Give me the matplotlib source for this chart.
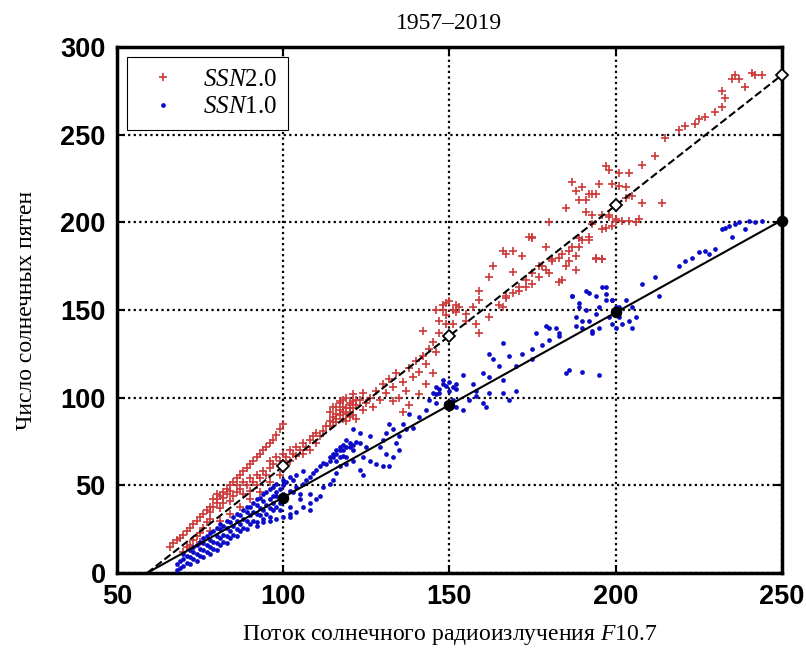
import numpy as np
import matplotlib
matplotlib.use("Agg")
import matplotlib.pyplot as plt

plt.rcParams['mathtext.fontset'] = 'custom'
plt.rcParams['mathtext.rm'] = 'Liberation Serif'
plt.rcParams['mathtext.it'] = 'Liberation Serif:italic'

# SSN 2.0 (red crosses): F10.7, sunspot number
ssn2_x = [66, 67, 68, 69, 70, 71, 72, 73, 74, 75, 76, 77, 78, 80, 81, 82, 83, 84, 85, 86, 87, 88, 89, 90, 91, 92, 93, 94, 95, 96, 97, 98, 99, 100,
          70, 71, 72, 73, 74, 75, 76, 77, 78, 78, 79, 79, 80, 80, 81, 82, 82, 83, 84, 84, 85, 86, 86, 87, 88, 88, 89, 90, 90, 91, 92, 92, 93, 94,
          95, 96, 96, 97, 98, 99, 100, 100, 101, 102, 103, 104, 105, 106, 107, 108, 109, 110,
          72, 75, 78, 81, 84, 87, 90, 93, 96, 99,
          102, 104, 106, 108, 110, 111, 112, 113, 114, 114, 115, 115, 116, 116, 117, 117, 118, 118, 119, 119, 120, 120, 121, 121, 122, 122,
          123, 124, 124, 125, 126, 127, 128, 129, 130, 131, 132, 133, 133, 134, 135, 136, 137, 138, 139, 140, 141, 142, 143, 144, 145, 146,
          136, 138, 141, 143, 145,
          114, 115, 116, 117, 118, 119, 120, 121, 116, 117, 118, 120, 121, 122, 119, 120,
          142, 147, 146, 148, 149, 147, 149, 152, 153, 155, 151, 155, 158, 159, 162, 165, 167, 169, 157, 159, 159,
          148, 150, 151, 149, 152,
          171, 173, 175, 173, 175, 178, 181, 163, 162, 166, 169, 172, 174, 179, 177, 179, 183, 184, 187, 189, 194, 186, 185,
          191, 189, 191, 193, 198, 200, 199, 193, 196, 190, 192, 187, 190, 194, 199, 201, 203, 205, 207, 198, 196, 188, 192, 193, 195,
          197, 198, 201, 203, 204, 208, 212, 214, 208, 197, 186, 188, 192, 196, 200, 202, 204, 206, 180, 181, 175, 169, 167, 177, 183,
          185, 188, 184, 180, 175, 171, 167, 166, 194, 196, 189,
          215, 219, 221, 224, 225, 227, 230, 232, 232, 233, 235, 236, 237, 239, 241, 242, 244]
ssn2_y = [15, 17, 19, 20, 22, 24, 26, 28, 30, 32, 34, 36, 38, 42, 44, 46, 48, 50, 52, 54, 56, 58, 60, 62, 64, 66, 68, 70, 72, 74, 76, 79, 82, 85,
          12, 15, 16, 19, 21, 23, 26, 29, 31, 35, 38, 42, 45, 40, 37, 40, 43, 45, 41, 47, 44, 46, 50, 48, 45, 52, 50, 47, 54, 52, 56, 50, 54, 58,
          56, 60, 64, 62, 66, 64, 62, 68, 66, 70, 68, 72, 70, 74, 72, 76, 78, 80,
          14, 18, 24, 30, 34, 38, 42, 46, 52, 56,
          64, 67, 68, 70, 74, 78, 81, 84, 87, 92, 89, 95, 86, 91, 93, 98, 88, 95, 91, 100, 94, 97, 90, 102, 96, 88,
          99, 93, 103, 97, 100, 95, 104, 99, 108, 103, 111, 106, 98, 114, 100, 109, 104, 117, 112, 121, 115, 124, 119, 128, 132, 126,
          92, 96, 102, 108, 114,
          84, 86, 88, 90, 92, 94, 96, 98, 95, 97, 99, 92, 94, 99, 87, 89,
          138, 137, 150, 150, 154, 144, 142, 149, 152, 148, 142, 144, 142, 137, 146, 153, 158, 160, 152, 156, 161,
          153, 155, 150, 147, 153,
          161, 163, 165, 167, 171, 175, 179, 175, 169, 184, 172, 181, 192, 186, 169, 173, 166, 182, 186, 186, 180, 184, 208,
          206, 213, 213, 204, 204, 201, 198, 199, 196, 190, 192, 223, 220, 216, 222, 221, 220, 215, 202, 203, 204, 218, 216, 216, 222,
          232, 230, 228, 214, 228, 233, 238, 211, 211, 197, 178, 181, 190, 179, 202, 201, 201, 200, 171, 178, 191, 184, 182, 175, 180,
          175, 173, 167, 200, 192, 163, 157, 152, 179, 179, 191,
          248, 253, 255, 256, 259, 260, 263, 266, 275, 271, 282, 284, 282, 277, 285, 284, 284]

# SSN 1.0 (blue dots): F10.7, sunspot number
ssn1_x = [68, 68, 69, 69, 70, 70, 70, 71, 71, 72, 72, 72, 73, 73, 73, 74, 74, 74, 75, 75, 75, 76, 76, 76, 76, 77, 77, 77, 78, 78, 78, 78,
          79, 79, 79, 80, 80, 80, 80, 81, 81, 81, 81, 82, 82, 82, 83, 83, 83, 83, 84, 84, 84, 85, 85, 85, 86, 86, 86, 86, 87, 87, 87,
          88, 88, 88, 89, 89, 89, 89, 90, 90, 90, 91, 91, 91, 92, 92, 92, 92, 93, 93, 93, 94, 94, 94, 94, 95, 95, 95, 96, 96, 96, 96,
          97, 97, 97, 98, 98, 98, 99, 99, 100, 100, 100, 101, 101, 102, 103, 103, 104, 105, 106,
          92, 94, 96, 98, 100, 102, 104, 106, 108, 110,
          97, 99, 102, 105, 108, 111, 102, 108, 98, 100, 102, 104, 106, 107, 108, 109, 110, 111, 112, 112, 113, 114, 114, 115, 115, 116,
          116, 117, 117, 118, 119, 119, 119, 120, 121, 121, 121, 123, 123, 123, 124, 124, 125, 126, 126, 128, 129, 130, 130, 131, 131,
          114, 115, 116, 117, 118, 119, 120, 121, 122, 118, 116, 117,
          132, 132, 133, 133, 134, 135, 135, 136, 137, 138, 139, 141, 143, 144, 145, 146, 146, 147, 148, 149, 150, 151, 152, 152, 154,
          147, 148, 149, 150, 151, 152, 146,
          154, 156, 157, 158, 158, 160, 160, 161, 162, 162, 162, 163, 165, 166, 166, 166, 168, 168, 170,
          170, 172, 175, 176, 178, 180, 183, 185, 186, 190, 195, 175, 179, 182, 183, 180,
          187, 189, 191, 188, 192, 195, 197, 196, 197, 200, 201, 203, 205, 206, 205, 200, 195, 193, 190, 191, 194, 199, 208, 212, 213,
          198, 199, 202, 204, 187, 189, 190, 192, 194, 197, 199, 201, 188, 193,
          219, 221, 223, 225, 227, 228, 230, 232, 233, 234, 235, 236, 237, 239, 240, 242, 244]
ssn1_y = [2, 5, 3, 7, 4, 8, 11, 6, 10, 5, 9, 13, 8, 12, 15, 7, 11, 16, 10, 14, 18, 9, 13, 17, 20, 12, 16, 21, 11, 15, 19, 23,
          14, 18, 24, 13, 17, 21, 26, 16, 20, 25, 28, 18, 22, 27, 17, 21, 26, 30, 20, 24, 29, 22, 27, 32, 21, 25, 30, 34, 24, 28, 33,
          26, 31, 36, 25, 30, 35, 38, 28, 33, 38, 30, 35, 40, 29, 34, 39, 42, 33, 37, 43, 31, 36, 41, 45, 34, 39, 46, 32, 37, 42, 48,
          36, 44, 49, 38, 46, 51, 40, 48, 42, 50, 53, 44, 52, 55, 46, 53, 56, 45, 58,
          27, 29, 30, 31, 32, 34, 35, 38, 40, 42,
          40, 36, 38, 42, 45, 44, 32, 36, 44, 45, 47, 49, 51, 53, 55, 57, 59, 61, 63, 49, 62, 64, 51, 66, 53, 68,
          57, 70, 61, 73, 76, 62, 66, 72, 70, 64, 82, 74, 80, 59, 66, 56, 72, 64, 78, 62, 72, 76, 61, 80, 68,
          66, 68, 70, 72, 70, 72, 74, 73, 75, 67, 64, 66,
          85, 61, 82, 66, 74, 78, 70, 85, 82, 91, 83, 89, 93, 99, 103, 106, 97, 103, 108, 97, 104, 99, 105, 95, 93,
          105, 110, 107, 109, 106, 108, 102,
          113, 99, 108, 104, 101, 114, 97, 95, 112, 103, 125, 122, 118, 131, 110, 103, 124, 99, 104,
          118, 125, 128, 137, 130, 133, 135, 114, 116, 115, 113, 122, 141, 140, 137, 140,
          158, 154, 150, 146, 144, 152, 156, 163, 159, 152, 146, 156, 152, 146, 140, 140, 140, 138, 140, 161, 158, 156, 165, 169, 158,
          146, 142, 142, 144, 158, 152, 144, 160, 148, 163, 156, 152, 141, 137,
          175, 178, 180, 183, 184, 182, 185, 196, 197, 198, 192, 199, 200, 196, 201, 200, 201]

# linear fits, evaluated at the marked F10.7 values
fit_x = [100, 150, 200, 250]
fit2_y = [61, 135, 210, 284]
fit1_y = [43, 96, 149, 201]

xticks = [50, 100, 150, 200, 250]
yticks = [0, 50, 100, 150, 200, 250, 300]

fig = plt.figure(figsize=(8.06, 6.55), dpi=100)
ax = fig.add_axes([0.145, 0.125, 0.825, 0.803])

ax.plot(ssn2_x, ssn2_y, linestyle='none', marker='+', markersize=5.5, markeredgewidth=1.2,
        color='#cc3a3a', label=r'$\mathit{SSN}$2.0', zorder=3)
ax.plot(ssn1_x, ssn1_y, linestyle='none', marker='o', markersize=3.4, markeredgewidth=0,
        color='#0a0ac8', label=r'$\mathit{SSN}$1.0', zorder=3)

# regression lines from zero crossing to the last point
for ys, ls, mfc in [(fit2_y, '--', 'white'), (fit1_y, '-', 'black')]:
    k, b = np.polyfit(fit_x, ys, 1)
    x0 = -b / k
    ax.plot([x0, fit_x[-1]], [0, k * fit_x[-1] + b], ls, color='black', lw=1.5, zorder=4)
    ax.plot(fit_x, ys, linestyle='none', marker='D' if mfc == 'white' else 'o',
            markersize=6 if mfc == 'white' else 7, markerfacecolor=mfc,
            markeredgecolor='black', markeredgewidth=1.3, zorder=5, clip_on=False)

ax.set_xlim(50, 250)
ax.set_ylim(0, 300)
ax.set_xticks(xticks)
ax.set_yticks(yticks)
ax.grid(True, color='black', linestyle=(0, (1, 1.5)), linewidth=1.6)
ax.set_axisbelow(True)
ax.tick_params(direction='in', length=6, width=1.5, top=True, right=True, labelsize=19.5, pad=8)
for lab in ax.get_xticklabels() + ax.get_yticklabels():
    lab.set_fontfamily('Liberation Sans')
    lab.set_fontweight('bold')
for sp in ax.spines.values():
    sp.set_linewidth(2.5)

ax.set_title('1957–2019', fontfamily='Liberation Serif', fontsize=17, pad=13)
ax.set_xlabel(r'Поток солнечного радиоизлучения $\mathit{F}$10.7', fontfamily='Liberation Serif',
              fontsize=17, labelpad=9)
ax.set_ylabel('Число солнечных пятен', fontfamily='Liberation Serif', fontsize=17, labelpad=17)

leg = ax.legend(loc='upper left', fancybox=False, edgecolor='black', framealpha=1,
                prop={'family': 'Liberation Serif', 'size': 18}, handletextpad=0.6, handlelength=2.0,
                borderaxespad=0.4, markerscale=1.0, labelspacing=0.2, borderpad=0.45)
leg.get_frame().set_linewidth(0.8)

fig.savefig('out.png', dpi=100)
